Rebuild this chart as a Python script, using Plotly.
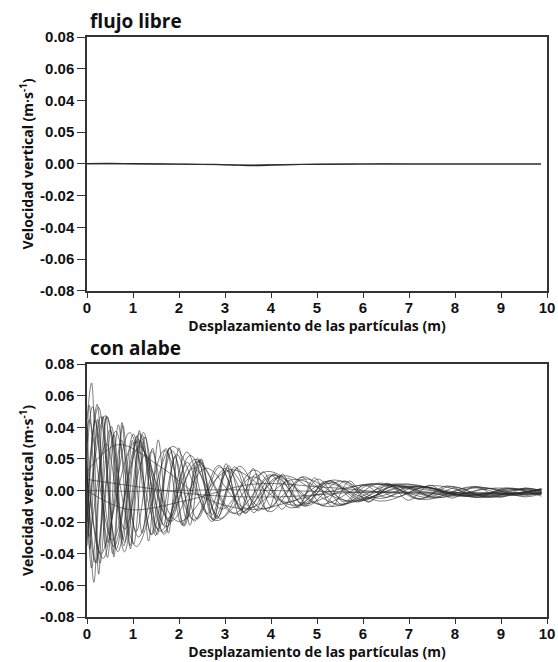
import plotly.graph_objects as go

# ---------------- data ----------------
x_ticks = [0, 1, 2, 3, 4, 5, 6, 7, 8, 9, 10]
y_tickvals = [0.08, 0.06, 0.04, 0.02, 0.0, -0.02, -0.04, -0.06, -0.08]
y_ticktext = ["0.08", "0.06", "0.04", "0.05", "0.00", "-0.02", "-0.04", "-0.06", "-0.08"]

# panel 1: flujo libre
free_x = [0, 0.5, 1.0, 2.0, 2.8, 3.3, 3.6, 4.0, 4.5, 5.0, 6.0, 7.0, 8.0, 9.0, 9.87]
free_y = [0.0003, 0.0004, 0.0002, 0.0, -0.0003, -0.0008, -0.001, -0.0008, -0.0004, -0.0002, 0.0, 0.0, 0.0, 0.0, 0.0]
free2_x = [0, 1.0, 2.0, 3.0, 3.5, 4.0, 5.0, 7.0, 9.87]
free2_y = [0.0, 0.0, -0.0002, -0.0005, -0.0006, -0.0004, -0.0001, 0.0, 0.0]

# panel 2: con alabe (extreme points of each particle trace)
c1_x = [0, 0.100, 0.254, 0.416, 0.585, 0.761, 0.945, 1.138, 1.339, 1.549, 1.769, 1.998, 2.238, 2.489, 2.751, 3.025,
        3.311, 3.610, 3.922, 4.249, 4.590, 4.946, 5.319, 5.708, 6.115, 6.540, 6.985, 7.449, 7.934, 8.441, 8.971, 9.525, 9.88]
c1_y = [0.045, 0.068, -0.053, 0.047, -0.042, 0.043, -0.037, 0.038, -0.032, 0.032, -0.027, 0.027, -0.022, 0.020, -0.019, 0.017,
        -0.016, 0.014, -0.013, 0.0105, -0.011, 0.008, -0.0098, 0.006, -0.0074, 0.0046, -0.0062, 0.0034, -0.0048, 0.0025, -0.0043, 0.0016, -0.001]

c2_x = [0, 0.150, 0.349, 0.558, 0.780, 1.015, 1.262, 1.524, 1.801, 2.094, 2.403, 2.730, 3.076, 3.441, 3.827, 4.236,
        4.667, 5.123, 5.605, 6.114, 6.653, 7.222, 7.824, 8.459, 9.132, 9.88]
c2_y = [0.02, -0.058, 0.047, -0.040, 0.041, -0.034, 0.034, -0.028, 0.027, -0.0225, 0.0205, -0.0183, 0.0158, -0.0147, 0.0118, -0.0118,
        0.0084, -0.0097, 0.006, -0.007, 0.0041, -0.0056, 0.0029, -0.0043, 0.0017, -0.0036]

c3_x = [0, 0.050, 0.283, 0.533, 0.800, 1.085, 1.390, 1.716, 2.064, 2.436, 2.835, 3.260, 3.715, 4.202, 4.722, 5.277,
        5.872, 6.507, 7.185, 7.911, 8.687, 9.516, 9.88]
c3_y = [0.03, 0.054, -0.046, 0.0405, -0.035, 0.0346, -0.028, 0.0266, -0.0216, 0.0189, -0.0168, 0.014, -0.0129, 0.0095, -0.0099, 0.0063,
        -0.0072, 0.0041, -0.0053, 0.0026, -0.004, 0.0014, 0.0]

c4_x = [0, 0.200, 0.497, 0.819, 1.167, 1.545, 1.955, 2.399, 2.881, 3.403, 3.969, 4.582, 5.247, 5.968, 6.749, 7.596, 8.514, 9.509, 9.88]
c4_y = [0.01, -0.046, 0.0385, -0.0326, 0.0316, -0.0246, 0.0228, -0.0179, 0.0149, -0.0133, 0.0099, -0.0094, 0.006, -0.0065, 0.0035, -0.0045, 0.002, -0.0034, -0.001]

c5_x = [0, 0.100, 0.440, 0.813, 1.224, 1.675, 2.171, 2.716, 3.315, 3.973, 4.696, 5.491, 6.364, 7.324, 8.379, 9.539, 9.88]
c5_y = [0.035, -0.049, 0.0467, -0.0388, 0.0367, -0.0278, 0.0244, -0.0196, 0.0153, -0.0134, 0.0087, -0.0095, 0.0047, -0.0057, 0.0025, -0.004, -0.002]

c6_x = [0, 0.250, 0.669, 1.137, 1.661, 2.245, 2.898, 3.627, 4.441, 5.350, 6.366, 7.501, 8.769, 9.88]
c6_y = [0.0, 0.0527, -0.0387, 0.0359, -0.0265, 0.0222, -0.0176, 0.0129, -0.011, 0.0066, -0.0067, 0.0031, -0.0042, 0.0008]

c7_x = [0, 0.120, 0.586, 1.115, 1.716, 2.397, 3.171, 4.049, 5.046, 6.177, 7.461, 8.918, 9.88]
c7_y = [0.02, 0.053, -0.0354, 0.0322, -0.023, 0.0182, -0.0144, 0.0094, -0.0087, 0.0042, -0.0047, 0.0016, -0.002]

c8_x = [0, 0.350, 0.925, 1.589, 2.357, 3.244, 4.270, 5.456, 6.827, 8.413, 9.88]
c8_y = [0.01, -0.043, 0.0366, -0.0257, 0.0197, -0.0149, 0.0093, -0.0086, 0.0037, -0.0041, 0.001]

c9_x = [0, 0.400, 1.072, 1.865, 2.800, 3.905, 5.207, 6.745, 8.559, 9.88]
c9_y = [-0.03, 0.0475, -0.0354, 0.0279, -0.019, 0.012, -0.0101, 0.0042, -0.0045, 0.0012]

c10_x = [0, 0.300, 1.063, 1.986, 3.103, 4.455, 6.090, 8.069, 9.88]
c10_y = [0.04, -0.040, 0.0308, -0.0196, 0.013, -0.0092, 0.004, -0.0037, 0.0005]

c11_x = [0, 0.180, 0.454, 0.749, 1.068, 1.411, 1.781, 2.180, 2.610, 3.074, 3.573, 4.112, 4.693, 5.319, 5.994, 6.721,
         7.505, 8.351, 9.262, 9.88]
c11_y = [-0.02, 0.0442, -0.0328, 0.0319, -0.0261, 0.0251, -0.0197, 0.0179, -0.0147, 0.0123, -0.011, 0.0081, -0.0081, 0.0052, -0.0056, 0.0031,
         -0.0041, 0.0018, -0.0031, 0.0005]

c12_x = [0, 0.050, 0.415, 0.820, 1.269, 1.766, 2.317, 2.927, 3.603, 4.352, 5.182, 6.102, 7.121, 8.249, 9.500, 9.88]
c12_y = [0.0, -0.029, 0.0298, -0.0244, 0.0228, -0.0176, 0.0143, -0.0117, 0.0086, -0.0076, 0.0046, -0.0047, 0.0023, -0.0029, 0.001, -0.001]

c13_x = [0, 0.060, 0.228, 0.404, 0.589, 0.783, 0.987, 1.201, 1.425, 1.661, 1.908, 2.168, 2.440, 2.726, 3.025, 3.340,
         3.670, 4.017, 4.381, 4.763, 5.164, 5.584, 6.026, 6.489, 6.975, 7.486, 8.021, 8.583, 9.173, 9.792, 9.88]
c13_y = [0.01, -0.037, 0.045, -0.036, 0.0353, -0.031, 0.0317, -0.027, 0.0267, -0.022, 0.0217, -0.0182, 0.0166, -0.0153, 0.0134, -0.0128,
         0.0105, -0.0104, 0.0079, -0.0086, 0.0058, -0.0073, 0.0033, -0.0043, 0.0024, -0.0035, 0.0018, -0.0029, 0.0011, -0.0025, -0.002]

c14_x = [0, 0.220, 0.444, 0.682, 0.935, 1.204, 1.490, 1.793, 2.116, 2.460, 2.824, 3.212, 3.625, 4.063, 4.529, 5.024,
         5.551, 6.110, 6.705, 7.338, 8.010, 8.725, 9.484, 9.88]
c14_y = [-0.02, 0.0545, -0.0424, 0.0416, -0.035, 0.035, -0.0285, 0.0271, -0.0224, 0.0197, -0.0179, 0.015, -0.014, 0.0105, -0.0107, 0.0072,
         -0.0088, 0.0032, -0.0041, 0.0022, -0.003, 0.0014, -0.0025, -0.001]

c15_x = [0, 0.300, 0.638, 1.007, 1.411, 1.852, 2.334, 2.861, 3.438, 4.067, 4.755, 5.508, 6.330, 7.228, 8.210, 9.284, 9.88]
c15_y = [-0.035, 0.0468, -0.0369, 0.0356, -0.0279, 0.0251, -0.0194, 0.0159, -0.0139, 0.01, -0.0098, 0.006, -0.005, 0.0025, -0.0032, 0.0012, -0.0015]

c16_x = [0, 0.180, 0.623, 1.121, 1.682, 2.314, 3.026, 3.827, 4.729, 5.745, 6.888, 8.176, 9.627, 9.88]
c16_y = [0.015, -0.0454, 0.0374, -0.0294, 0.0254, -0.0183, 0.0142, -0.0118, 0.0073, -0.0072, 0.0027, -0.0032, 0.001, 0.0]

c17_x = [0, 0.050, 0.557, 1.141, 1.812, 2.584, 3.472, 4.492, 5.666, 7.016, 8.568, 9.88]
c17_y = [0.03, 0.045, -0.0314, 0.0279, -0.0195, 0.0141, -0.0113, 0.007, -0.0065, 0.0026, -0.0031, 0.0005]

s1_x = [0, 0.67, 1.6, 2.5, 3.6, 4.8, 6.2, 7.8, 9.88]
s1_y = [0.012, 0.029, 0.015, -0.004, -0.012, -0.004, 0.004, -0.001, -0.002]
s2_x = [0, 0.9, 2.2, 3.6, 5.2, 7.0, 9.88]
s2_y = [0.0, -0.012, -0.006, 0.004, 0.002, -0.002, -0.0015]
s3_x = [0, 1, 2, 3, 4, 5, 6, 7, 8, 9.88]
s3_y = [0.0, -0.0005, 0.0, 0.0005, 0.0, -0.0005, -0.001, -0.001, -0.0012, -0.0015]
s4_x = [0, 1.2, 2.6, 4.2, 6.0, 8.0, 9.88]
s4_y = [0.007, 0.002, -0.003, -0.004, -0.001, -0.002, -0.0025]

alabe_curves = [
    (c1_x, c1_y), (c2_x, c2_y), (c3_x, c3_y), (c4_x, c4_y), (c5_x, c5_y), (c6_x, c6_y),
    (c7_x, c7_y), (c8_x, c8_y), (c9_x, c9_y), (c10_x, c10_y), (c11_x, c11_y), (c12_x, c12_y),
    (c13_x, c13_y), (c14_x, c14_y), (c15_x, c15_y), (c16_x, c16_y), (c17_x, c17_y),
    (s1_x, s1_y), (s2_x, s2_y), (s3_x, s3_y), (s4_x, s4_y),
]

# ---------------- figure ----------------
fig = go.Figure()
LINE = "rgba(40,40,40,0.7)"

fig.add_trace(go.Scatter(x=free_x, y=free_y, mode="lines", line=dict(color="#222", width=1.2, shape="spline"),
                         xaxis="x", yaxis="y", showlegend=False, hoverinfo="skip"))
fig.add_trace(go.Scatter(x=free2_x, y=free2_y, mode="lines", line=dict(color="#333", width=1.0, shape="spline"),
                         xaxis="x", yaxis="y", showlegend=False, hoverinfo="skip"))

for cx, cy in alabe_curves:
    fig.add_trace(go.Scatter(x=cx, y=cy, mode="lines", line=dict(color=LINE, width=0.85, shape="spline", smoothing=1.0),
                             xaxis="x2", yaxis="y2", showlegend=False, hoverinfo="skip"))

tick_font = dict(family="Liberation Sans, Arial, sans-serif", size=15, color="#111", weight="bold")
xtitle_font = dict(family="Open Sans, sans-serif", size=14, color="#111", weight="bold")
ytitle_font = dict(family="Open Sans, sans-serif", size=14, color="#111", weight="bold")

common_x = dict(range=[0, 10], tickvals=x_ticks, ticks="outside", ticklen=5, tickwidth=1.3, tickcolor="#333",
                showline=True, linecolor="#333", linewidth=1.5, mirror=True, showgrid=False, zeroline=False,
                automargin=False, tickfont=tick_font, ticklabelstandoff=-3,
                title=dict(text="Desplazamiento de las partículas (m)", font=xtitle_font, standoff=2))
common_y = dict(range=[-0.08, 0.08], tickvals=y_tickvals, ticktext=y_ticktext, ticks="outside", ticklen=8, tickwidth=1.3,
                tickcolor="#333", showline=True, linecolor="#333", linewidth=1.5, mirror=True, showgrid=False,
                zeroline=False, automargin=False, tickfont=tick_font,
                title=dict(text="Velocidad vertical (m·s<sup>-1</sup>)", font=ytitle_font, standoff=3))

fig.update_layout(
    template="none",
    width=558, height=662,
    margin=dict(l=87, r=11, t=37, b=45),
    paper_bgcolor="white", plot_bgcolor="white",
    xaxis=dict(common_x, anchor="y", domain=[0, 1]),
    yaxis=dict(common_y, anchor="x", domain=[0.5621, 1.0]),
    xaxis2=dict(common_x, anchor="y2", domain=[0, 1]),
    yaxis2=dict(common_y, anchor="x2", domain=[0.0, 0.4362]),
    annotations=[
        dict(text="flujo libre", xref="paper", yref="paper", x=0.0, y=1.0, xanchor="left", yanchor="bottom",
             xshift=1, yshift=1, showarrow=False, font=dict(family="Open Sans, sans-serif", size=19, color="#111", weight="bold")),
        dict(text="con alabe", xref="paper", yref="paper", x=0.0, y=0.4362, xanchor="left", yanchor="bottom",
             xshift=1, yshift=1, showarrow=False, font=dict(family="Open Sans, sans-serif", size=19, color="#111", weight="bold")),
    ],
)

fig.write_html("out.html", config={"displayModeBar": False},
               post_script="document.body.style.margin='0';document.body.style.overflow='hidden';")
